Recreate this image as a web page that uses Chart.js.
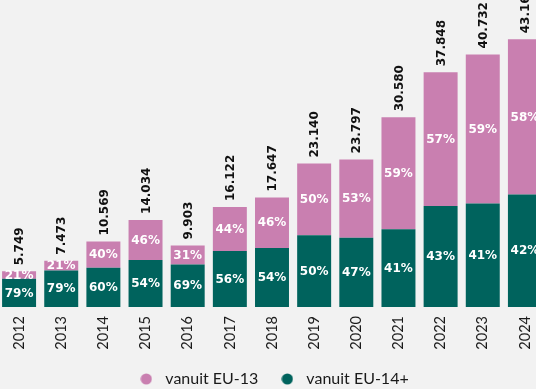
<!DOCTYPE html>
<html>
<head>
<meta charset="utf-8">
<script src="https://cdn.jsdelivr.net/npm/chart.js@4/dist/chart.umd.min.js"></script>
<style>
  html, body { margin: 0; padding: 0; background: #f2f2f2; overflow: hidden; width: 536px; height: 389px; }
  #wrap { position: absolute; left: -2px; top: 0; width: 548px; height: 397px; }
</style>
</head>
<body>
<div id="wrap"><canvas id="chart" width="548" height="397"></canvas></div>
<script>
// Totals per year and the share (in %) of each origin group
const years   = ['2012', '2013', '2014', '2015', '2016', '2017', '2018', '2019', '2020', '2021', '2022', '2023', '2024'];
const totals  = [5749, 7473, 10569, 14034, 9903, 16122, 17647, 23140, 23797, 30580, 37848, 40732, 43160];
const pctEU13 = [21, 21, 40, 46, 31, 44, 46, 50, 53, 59, 57, 59, 58];
const pctEU14 = [79, 79, 60, 54, 69, 56, 54, 50, 47, 41, 43, 41, 42];

const PINK = '#c97fb0';
const TEAL = '#00635d';
const TEXT_FONT = 'Lato, "Open Sans", sans-serif';
const NUM_FONT  = '"DejaVu Sans", Verdana, sans-serif';

// 12345 -> "12.345"
const fmt = n => String(n).replace(/\B(?=(\d{3})+(?!\d))/g, '.');

const segEU14 = totals.map((t, i) => t * pctEU14[i] / 100);
const segEU13 = totals.map((t, i) => t * pctEU13[i] / 100);

// small filled dot used as legend marker
function dot(color) {
  const c = document.createElement('canvas');
  c.width = 12; c.height = 12;
  const g = c.getContext('2d');
  g.fillStyle = color;
  g.beginPath();
  g.arc(6, 6, 5.6, 0, Math.PI * 2);
  g.fill();
  return c;
}
const dots = [dot(TEAL), dot(PINK)];

/* percentages inside the segments, totals rotated above the bars */
const barLabels = {
  id: 'barLabels',
  afterDatasetsDraw(chart) {
    const { ctx } = chart;
    const pcts = [pctEU14, pctEU13];
    ctx.save();
    ctx.font = `bold 12px ${NUM_FONT}`;
    ctx.fillStyle = '#ffffff';
    ctx.textAlign = 'center';
    ctx.textBaseline = 'middle';
    chart.data.datasets.forEach((ds, di) => {
      chart.getDatasetMeta(di).data.forEach((bar, i) => {
        ctx.fillText(pcts[di][i] + '%', bar.x, (bar.y + bar.base) / 2 + 0.5);
      });
    });
    chart.getDatasetMeta(1).data.forEach((bar, i) => {
      ctx.save();
      ctx.translate(bar.x + 1, bar.y - 6);
      ctx.rotate(-Math.PI / 2);
      ctx.font = `bold 12px ${NUM_FONT}`;
      ctx.fillStyle = '#111111';
      ctx.textAlign = 'left';
      ctx.textBaseline = 'middle';
      ctx.fillText(fmt(totals[i]), 0, 0);
      ctx.restore();
    });
    ctx.restore();
  },
};

new Chart(document.getElementById('chart'), {
  type: 'bar',
  plugins: [barLabels],
  data: {
    labels: years,
    datasets: [
      { label: 'vanuit EU-14+', data: segEU14, backgroundColor: TEAL },
      { label: 'vanuit EU-13',  data: segEU13, backgroundColor: PINK },
    ],
  },
  options: {
    responsive: false,
    animation: false,
    layout: { padding: 0 },
    datasets: { bar: { categoryPercentage: 1, barPercentage: 0.806, borderWidth: 0 } },
    scales: {
      x: {
        stacked: true,
        grid: { display: false, drawTicks: false },
        border: { display: false },
        ticks: {
          color: '#1a1a1a',
          font: { family: TEXT_FONT, size: 14.5 },
          minRotation: 90, maxRotation: 90,
          padding: 9,
        },
        // bars run edge to edge; fixed band for the year labels
        afterFit(scale) {
          scale.paddingLeft = 0;
          scale.paddingRight = 0;
          scale.height = 46;
        },
      },
      y: {
        stacked: true,
        display: false,
        min: 0, max: 49500,
      },
    },
    plugins: {
      legend: {
        position: 'bottom',
        reverse: true,
        labels: {
          usePointStyle: true,
          boxWidth: 22, boxHeight: 16,
          pointStyleWidth: 22,
          color: '#1a1a1a',
          font: { family: TEXT_FONT, size: 16 },
          padding: 18,
          generateLabels(chart) {
            const items = Chart.defaults.plugins.legend.labels.generateLabels(chart);
            items.forEach(it => { it.pointStyle = dots[it.datasetIndex]; });
            return items;
          },
        },
      },
      tooltip: { enabled: false },
    },
  },
});
</script>
</body>
</html>
